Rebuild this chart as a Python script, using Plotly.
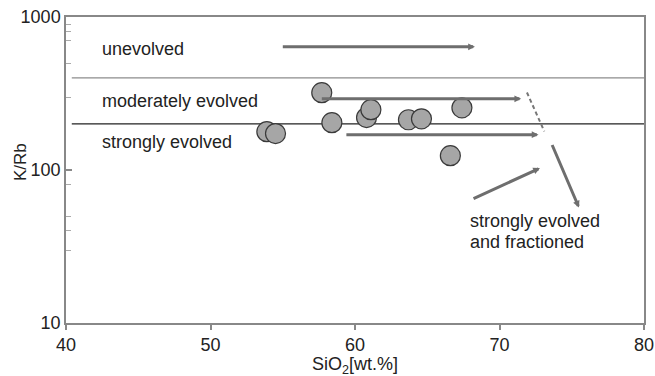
import numpy as np
import plotly.graph_objects as go

# Sample points
sio2 = [53.9, 54.5, 57.7, 58.4, 60.8, 61.1, 63.7, 64.6, 67.4, 66.6]
k_rb = [178, 173, 320, 204, 220, 248, 213, 216, 255, 124]

# Field boundaries (K/Rb)
boundary_vals = [400, 200]
boundary_colors = ["#8c8c8c", "#222222"]
boundary_x = [40.4, 80]

# Arrows: (x_tail, y_tail, x_head, y_head)
arrows = [
    (54.9, 638, 68.3, 638),
    (57.6, 292, 71.5, 292),
    (59.3, 170, 72.7, 170),
    (68.1, 64.3, 72.8, 103),
    (73.6, 149, 75.5, 56.8),
]
dash_x = [71.9, 73.1]
dash_y = [321, 179]

# Labels
label_text = ["unevolved", "moderately evolved", "strongly evolved",
              "strongly evolved", "and fractioned"]
label_x = [42.35, 42.35, 42.35, 67.8, 67.8]
label_y = [619, 284, 153, 46.2, 33.7]

x_ticks = [40, 50, 60, 70, 80]
y_ticks = [10, 100, 1000]
y_minor = [30, 40, 50, 80, 300, 500, 700, 800, 900]

FONT = "Liberation Sans, Arial, sans-serif"

fig = go.Figure()

for v, c in zip(boundary_vals, boundary_colors):
    fig.add_trace(go.Scatter(x=boundary_x, y=[v, v], mode="lines",
                             line=dict(color=c, width=1.3), hoverinfo="skip"))

fig.add_trace(go.Scatter(x=dash_x, y=dash_y, mode="lines",
                         line=dict(color="#777777", width=2, dash="4px,3px"),
                         hoverinfo="skip"))

fig.add_trace(go.Scatter(x=sio2, y=k_rb, mode="markers",
                         marker=dict(size=20, color="#a6a6a6",
                                     line=dict(color="#3a3a3a", width=1.2))))

for (x0, y0, x1, y1) in arrows:
    fig.add_annotation(x=x1, y=np.log10(y1), ax=x0, ay=np.log10(y0),
                       xref="x", yref="y", axref="x", ayref="y",
                       text="", showarrow=True, arrowhead=2, arrowsize=0.45,
                       arrowwidth=3, arrowcolor="#6e6e6e", standoff=0,
                       startstandoff=0)

for t, x, y in zip(label_text, label_x, label_y):
    fig.add_annotation(x=x, y=np.log10(y), xref="x", yref="y", text=t,
                       showarrow=False, xanchor="left", yanchor="middle",
                       align="left", font=dict(family=FONT, size=18, color="#222222"))

# Axis titles as text annotations
fig.add_annotation(x=-0.0796, y=0.526, xref="paper", yref="paper", text="K/Rb",
                   showarrow=False, textangle=-90, xanchor="center", yanchor="middle",
                   font=dict(family=FONT, size=17, color="#222222"))
fig.add_annotation(x=0.5, y=-0.14, xref="paper", yref="paper",
                   text="SiO<sub>2</sub>[wt.%]", showarrow=False,
                   xanchor="center", yanchor="middle",
                   font=dict(family=FONT, size=18, color="#222222"))

fig.update_layout(
    width=655, height=376,
    margin=dict(l=66, r=11, t=17, b=53),
    plot_bgcolor="white", paper_bgcolor="white",
    showlegend=False,
    font=dict(family=FONT, color="#222222"),
)
fig.update_xaxes(
    range=[40, 80], tickvals=x_ticks, ticks="outside", ticklen=5,
    tickcolor="#888888", tickwidth=1.5, automargin=False,
    showline=True, linecolor="#888888", linewidth=1.5, mirror=True,
    showgrid=False, zeroline=False,
    tickfont=dict(family=FONT, size=18, color="#222222"),
)
fig.update_yaxes(
    type="log", range=[1, 3], tickvals=y_ticks, ticktext=[str(v) for v in y_ticks],
    ticks="inside", ticklen=6, tickcolor="#888888", tickwidth=1.5, automargin=False,
    minor=dict(tickmode="array", tickvals=y_minor, ticks="inside", ticklen=5,
               tickcolor="#aaaaaa", tickwidth=1),
    showline=True, linecolor="#888888", linewidth=1.5, mirror=True,
    showgrid=False, zeroline=False,
    tickfont=dict(family=FONT, size=18, color="#222222"),
)

fig.write_html("out.html")
